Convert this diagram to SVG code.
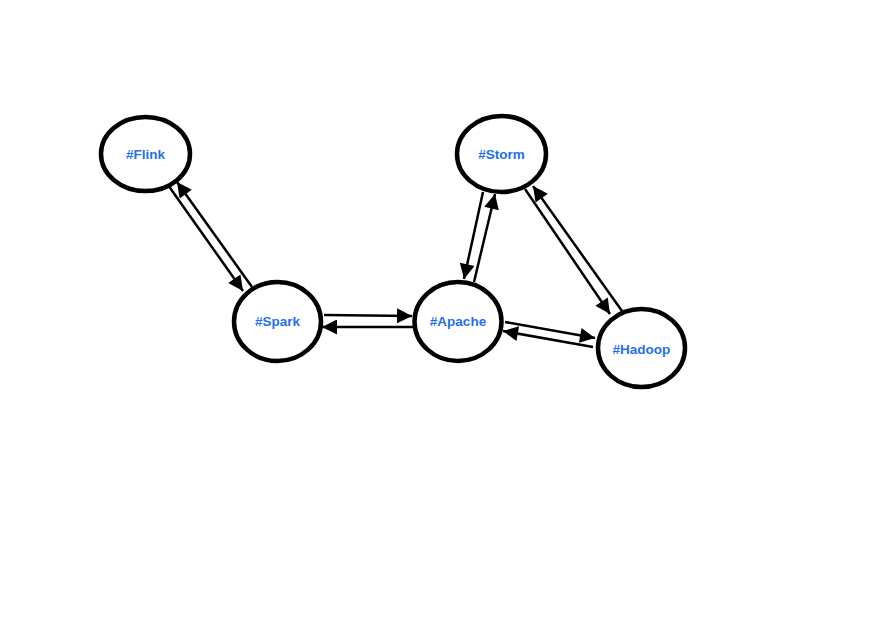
<svg xmlns="http://www.w3.org/2000/svg" width="889" height="643" viewBox="0 0 889 643">
<style>
.node ellipse{fill:#fff;stroke:#000;stroke-width:4.5}
.node text{font-family:"Liberation Sans",Arial,sans-serif;font-weight:bold;font-size:13.5px;fill:#1f6fee;text-anchor:middle;dominant-baseline:central}
.edges line{stroke:#000;stroke-width:2.5;fill:none;marker-end:url(#ah)}
</style>
<defs>
<marker id="ah" viewBox="0 0 10 10" refX="10" refY="5" markerWidth="6.5" markerHeight="6" orient="auto" markerUnits="strokeWidth">
<path d="M0,0 L10,5 L0,10 z" fill="#000"/>
</marker>
</defs>
<rect width="889" height="643" fill="#fff"/>
<g class="edges">
<line x1="168" y1="185" x2="243" y2="291"/>
<line x1="252" y1="287" x2="177" y2="182"/>
<line x1="324" y1="315" x2="412" y2="316"/>
<line x1="413" y1="327" x2="322" y2="327"/>
<line x1="483" y1="192" x2="464" y2="279"/>
<line x1="474" y1="282" x2="495" y2="194"/>
<line x1="525" y1="189" x2="610" y2="314"/>
<line x1="622" y1="311" x2="533" y2="186"/>
<line x1="505" y1="322" x2="595" y2="338"/>
<line x1="593" y1="347" x2="503" y2="331"/>
</g>
<g id="flink" class="node"><ellipse cx="145.5" cy="154" rx="44.5" ry="37"/><text x="145.5" y="154">#Flink</text></g>
<g id="storm" class="node"><ellipse cx="501.5" cy="154" rx="44.5" ry="38"/><text x="501.5" y="154">#Storm</text></g>
<g id="spark" class="node"><ellipse cx="277.5" cy="321.5" rx="43.5" ry="39.5"/><text x="277.5" y="321.5">#Spark</text></g>
<g id="apache" class="node"><ellipse cx="458" cy="321.5" rx="43.5" ry="39.5"/><text x="458" y="321.5">#Apache</text></g>
<g id="hadoop" class="node"><ellipse cx="641.5" cy="348" rx="43.5" ry="39"/><text x="641.5" y="349">#Hadoop</text></g>
</svg>
